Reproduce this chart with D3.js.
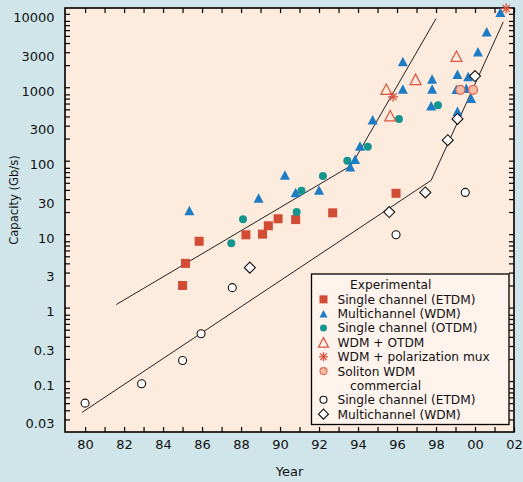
<!DOCTYPE html>
<html><head><meta charset="utf-8">
<script src="https://cdn.jsdelivr.net/npm/d3@7"></script>
<style>
html,body{margin:0;padding:0;background:#cfe5e9;}
svg{display:block;font-family:"DejaVu Sans",sans-serif;}
</style></head><body>
<svg id="c" width="523" height="482"></svg>
<script>
// ---- data ----
const yearTickValues = d3.range(1980, 2003, 1);
const yearLabelValues = d3.range(1980, 2003, 2);
const capacityLabelValues = [10000, 3000, 1000, 300, 100, 30, 10, 3, 1, 0.3, 0.1, 0.03];

// Experimental
const singleEtdmExp = [[1985, 2], [1985.15, 4], [1985.85, 8], [1988.25, 9.8], [1989.1, 10], [1989.4, 13], [1989.9, 16.2], [1990.8, 15.8], [1992.7, 19.5], [1995.95, 36]];
const wdmExp = [[1985.35, 21], [1988.9, 31], [1990.25, 64], [1990.8, 37], [1992.0, 40], [1993.6, 83], [1993.85, 105], [1994.1, 158], [1994.75, 360], [1996.3, 2250], [1996.3, 950], [1997.8, 1300], [1997.8, 950], [1997.75, 560], [1999.1, 1500], [1999.05, 940], [1999.65, 1400], [1999.55, 970], [1999.8, 710], [1999.1, 470], [2000.15, 3050], [2000.6, 5700], [2001.3, 10500]];
const singleOtdmExp = [[1987.5, 7.5], [1988.1, 16], [1990.85, 20], [1991.1, 39], [1992.2, 62], [1993.45, 100], [1994.5, 155], [1996.1, 370], [1998.1, 570]];
const wdmOtdmExp = [[1995.45, 940], [1995.65, 410], [1996.95, 1280], [1999.05, 2650]];
const wdmPolMuxExp = [[1995.8, 740], [2001.6, 11800]];
const solitonWdmExp = [[1999.25, 920], [1999.9, 920]];
// Commercial
const singleEtdmCom = [[1980, 0.05], [1982.9, 0.092], [1985, 0.19], [1985.95, 0.44], [1987.55, 1.87], [1995.95, 9.8], [1999.5, 37]];
const wdmCom = [[1988.45, 3.5], [1995.6, 20], [1997.45, 37], [1998.6, 190], [1999.1, 370], [2000.0, 1420]];
// Trend lines
const experimentalTrend = [[1981.6, 1.1], [1993.65, 86], [1998.0, 8600]];
const commercialTrend = [[1979.85, 0.0375], [1997.75, 54], [2001.45, 7750]];

const legendItems = [
  {label: "Experimental", type: "header"},
  {label: "Single channel (ETDM)", type: "square"},
  {label: "Multichannel (WDM)", type: "triangle"},
  {label: "Single channel (OTDM)", type: "dot"},
  {label: "WDM + OTDM", type: "opentri"},
  {label: "WDM + polarization mux", type: "star"},
  {label: "Soliton WDM", type: "soliton"},
  {label: "commercial", type: "header"},
  {label: "Single channel (ETDM)", type: "opencircle"},
  {label: "Multichannel (WDM)", type: "diamond"}
];

// ---- styles ----
const RED = "#d24b35", BLUE = "#1d7cc4", TEAL = "#15958f", ORED = "#d9553f";
const FONT = '"DejaVu Sans",sans-serif';

const svg = d3.select("#c");
const L = 65, R = 514, T = 8, B = 432;

const x = d3.scaleLinear().domain([1978.97, 2002]).range([L, R]);
const y = d3.scaleLog().domain([0.02024, 11995]).range([B, T]);

svg.append("rect").attr("x", L).attr("y", T).attr("width", R - L).attr("height", B - T)
  .attr("fill", "#fdebde");

// minor/major ticks for log axis
const logTicks = [];
for (let e = -2; e <= 4; e++) for (let m = 1; m <= 8; m++) {
  const v = Number(m + "e" + e);
  if (v >= 0.02024 && v <= 11995) logTicks.push(v);
}
const isLabel = v => capacityLabelValues.some(c => Math.abs(c - v) / c < 1e-9);

function styleAxis(g) {
  g.select(".domain").remove();
  g.selectAll(".tick line").attr("stroke", "#000").attr("stroke-width", 1.2);
  g.selectAll("text").attr("fill", "#111").style("font-size", "13px").style("font-family", FONT);
}

svg.append("g").attr("transform", `translate(0,${B})`)
  .call(d3.axisBottom(x).tickValues(yearTickValues).tickSizeInner(-5).tickSizeOuter(0).tickPadding(8)
    .tickFormat(d => (yearLabelValues.includes(d) ? String(d % 100).padStart(2, "0") : "")))
  .call(styleAxis);
svg.append("g").attr("transform", `translate(0,${T})`)
  .call(d3.axisTop(x).tickValues(yearTickValues).tickSizeInner(-5).tickSizeOuter(0).tickFormat(""))
  .call(styleAxis);
svg.append("g").attr("transform", `translate(${L},0)`)
  .call(d3.axisLeft(y).tickValues(logTicks).tickSizeInner(-5).tickSizeOuter(0).tickPadding(10.5)
    .tickFormat(d => (isLabel(d) ? String(d) : "")))
  .call(styleAxis)
  .call(g => g.selectAll("text").attr("y", 4));
svg.append("g").attr("transform", `translate(${R},0)`)
  .call(d3.axisRight(y).tickValues(logTicks).tickSizeInner(-5).tickSizeOuter(0).tickFormat(""))
  .call(styleAxis);

svg.append("rect").attr("x", L).attr("y", T).attr("width", R - L).attr("height", B - T)
  .attr("fill", "none").attr("stroke", "#000").attr("stroke-width", 1.6);

svg.append("text").attr("x", (L + R) / 2).attr("y", 475.5).attr("text-anchor", "middle")
  .style("font-size", "13px").style("font-family", FONT).attr("fill", "#111").text("Year");
svg.append("text").attr("transform", "translate(17.5,200) rotate(-90)").attr("text-anchor", "middle")
  .style("font-size", "11.6px").style("font-family", FONT).attr("fill", "#111").text("Capacity (Gb/s)");

// trend lines
const line = d3.line().x(d => x(d[0])).y(d => y(d[1]));
[experimentalTrend, commercialTrend].forEach(t =>
  svg.append("path").attr("d", line(t)).attr("fill", "none").attr("stroke", "#222").attr("stroke-width", 1));

// marker drawers
function tri(s) { const h = s * 0.95; return `M0,${-h / 2}L${s / 2},${h / 2}L${-s / 2},${h / 2}Z`; }
function draw(g, type, s) {
  switch (type) {
    case "square": g.append("rect").attr("x", -s / 2).attr("y", -s / 2).attr("width", s).attr("height", s).attr("fill", RED); break;
    case "triangle": g.append("path").attr("d", tri(s)).attr("fill", BLUE); break;
    case "dot": g.append("circle").attr("r", s / 2).attr("fill", TEAL); break;
    case "opentri": g.append("path").attr("d", tri(s)).attr("fill", "none").attr("stroke", ORED).attr("stroke-width", 1.2); break;
    case "star": {
      const r = s / 2;
      for (let k = 0; k < 4; k++) {
        const a = k * Math.PI / 4;
        g.append("line").attr("x1", -r * Math.cos(a)).attr("y1", -r * Math.sin(a))
          .attr("x2", r * Math.cos(a)).attr("y2", r * Math.sin(a)).attr("stroke", ORED).attr("stroke-width", 1.3);
      }
      break;
    }
    case "soliton": g.append("circle").attr("r", s / 2).attr("fill", "#f7bba6").attr("stroke", "#dd6650").attr("stroke-width", 1.1); break;
    case "opencircle": g.append("circle").attr("r", s / 2).attr("fill", "#fff").attr("stroke", "#111").attr("stroke-width", 1.1); break;
    case "diamond": g.append("path").attr("d", `M0,${-s / 2}L${s / 2},0L0,${s / 2}L${-s / 2},0Z`).attr("fill", "#fff").attr("stroke", "#111").attr("stroke-width", 1.1); break;
  }
}

const series = [
  [singleEtdmExp, "square", 9],
  [singleOtdmExp, "dot", 8],
  [wdmExp, "triangle", 10],
  [wdmOtdmExp, "opentri", 11],
  [solitonWdmExp, "soliton", 9],
  [wdmPolMuxExp, "star", 10],
  [singleEtdmCom, "opencircle", 8],
  [wdmCom, "diamond", 11]
];
series.forEach(([data, type, s]) => {
  data.forEach(d => {
    const g = svg.append("g").attr("transform", `translate(${x(d[0])},${y(d[1])})`);
    draw(g, type, s);
  });
});

// legend
const lg = svg.append("g");
lg.append("rect").attr("x", 311.5).attr("y", 274).attr("width", 197.5).attr("height", 150.5)
  .attr("fill", "#fef3ed").attr("stroke", "#000").attr("stroke-width", 1.3);
const symSizes = {square: 8, triangle: 8, dot: 7, opentri: 10, star: 9, soliton: 7, opencircle: 7, diamond: 10};
legendItems.forEach((it, i) => {
  const cy = 285 + i * 14.35;
  if (it.type === "header") {
    lg.append("text").attr("x", 350).attr("y", cy + 4.4).style("font-size", "12.2px").style("font-family", FONT).attr("fill", "#111").text(it.label);
  } else {
    const g = lg.append("g").attr("transform", `translate(323.5,${cy})`);
    draw(g, it.type, symSizes[it.type]);
    lg.append("text").attr("x", 337.5).attr("y", cy + 4.4).style("font-size", "12.2px").style("font-family", FONT).attr("fill", "#111").text(it.label);
  }
});
</script>
</body></html>
